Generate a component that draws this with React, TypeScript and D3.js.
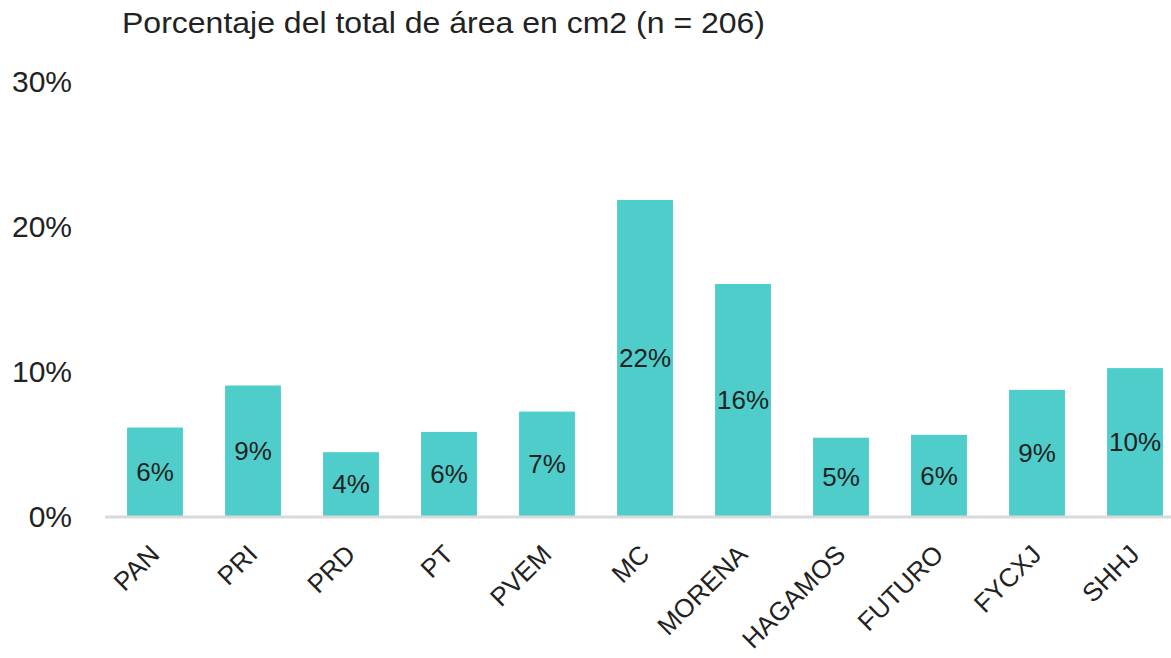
import React from 'react'
import * as d3 from 'd3'

const categories = ['PAN', 'PRI', 'PRD', 'PT', 'PVEM', 'MC', 'MORENA', 'HAGAMOS', 'FUTURO', 'FYCXJ', 'SHHJ']
const values = [0.061, 0.09, 0.044, 0.058, 0.072, 0.218, 0.16, 0.054, 0.056, 0.087, 0.102]
const yTicks = [0, 0.1, 0.2, 0.3]
const title = 'Porcentaje del total de área en cm2 (n = 206)'

const width = 1171
const height = 658
const font = '"Liberation Sans", Arial, sans-serif'
const fmt = d3.format('.0%')

const x = d3
  .scaleBand<string>()
  .domain(categories)
  .range([106, 1184])
  .paddingInner(0.43)
  .paddingOuter(0.215)
const y = d3.scaleLinear().domain([0, 0.3]).range([516, 81])

const App = () => {
  return (
    <svg
      width={width}
      height={height}
      style={{ position: 'absolute', left: 0, top: 0, background: '#fff' }}
      fontFamily={font}
    >
      <text x={122} y={33} fontSize={30} fill="#222" textLength={643} lengthAdjust="spacingAndGlyphs">
        {title}
      </text>
      {yTicks.map(t => (
        <text
          key={t}
          x={72}
          y={y(t)}
          dy="0.35em"
          textAnchor="end"
          fontSize={30}
          fill="#222"
        >
          {fmt(t)}
        </text>
      ))}
      {categories.map((c, i) => (
        <g key={c}>
          <rect
            x={x(c)}
            y={y(values[i])}
            width={x.bandwidth()}
            height={y(0) - y(values[i])}
            fill="#4ecdcb"
          />
          <text
            x={x(c)! + x.bandwidth() / 2}
            y={(y(values[i]) + y(0)) / 2}
            dy="0.35em"
            textAnchor="middle"
            fontSize={26}
            fill="#222"
          >
            {fmt(values[i])}
          </text>
          <text
            transform={`translate(${x(c)! + x.bandwidth() / 2 + 6},${y(0) + 40}) rotate(-45)`}
            textAnchor="end"
            fontSize={26}
            fill="#222"
          >
            {c}
          </text>
        </g>
      ))}
      <line x1={105} x2={width} y1={y(0) + 1} y2={y(0) + 1} stroke="#d9d9d9" strokeWidth={3} />
    </svg>
  )
}

export default App
